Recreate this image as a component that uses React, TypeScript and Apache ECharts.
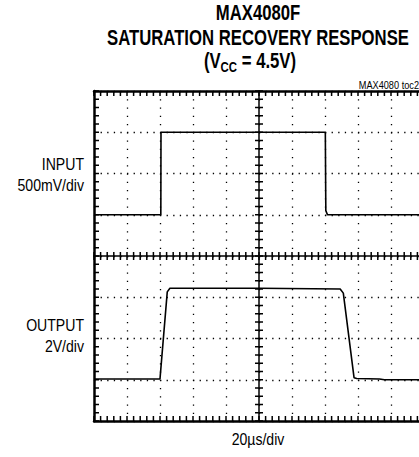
import React, { useEffect, useRef } from "react";
import * as echarts from "echarts";

// time axis in µs (20 µs/div), vertical axis in screen divisions
const xMin = 0;
const xMax = 200;
const xStep = 20;
const yMin = 0;
const yMax = 8;
const yStep = 1;
const minorPerDiv = 5;

const inputTime = [0, 40.5, 40.6, 140.2, 140.5, 141.5, 200];
const inputLevel = [5, 5, 7, 7, 5.1, 5, 5];

const outputTime = [0, 40, 44.4, 46, 100, 149.2, 151.1, 157.6, 159.2, 173, 176, 200];
const outputLevel = [1.02, 1.02, 3.13, 3.22, 3.22, 3.2, 3.1, 1.05, 1.03, 1.02, 1.0, 1.0];

const titleLines = ["MAX4080F", "SATURATION RECOVERY RESPONSE"];
const inputLabel = ["INPUT", "500mV/div"];
const outputLabel = ["OUTPUT", "2V/div"];
const timeLabel = "20\u00b5s/div";
const tocLabel = "MAX4080 toc2";

const GRID_L = 94;
const GRID_T = 91;
const GRID_W = 330;
const GRID_H = 330;
const FONT = '"Liberation Sans", Arial, sans-serif';

// minor graticule tick positions (axis units)
const xTickPos: number[] = [];
for (let i = 0; i <= ((xMax - xMin) / xStep) * minorPerDiv; i++) xTickPos.push(xMin + (i * xStep) / minorPerDiv);
const yTickPos: number[] = [];
for (let i = 0; i <= ((yMax - yMin) / yStep) * minorPerDiv; i++) yTickPos.push(yMin + (i * yStep) / minorPerDiv);

function xAx(opts: any) {
  return {
    type: "value",
    min: xMin,
    max: xMax,
    interval: xStep,
    gridIndex: 0,
    axisLabel: { show: false },
    axisTick: { show: false },
    splitLine: { show: false },
    ...opts,
  };
}
function yAx(opts: any) {
  return {
    type: "value",
    min: yMin,
    max: yMax,
    interval: yStep,
    gridIndex: 0,
    axisLabel: { show: false },
    axisTick: { show: false },
    splitLine: { show: false },
    ...opts,
  };
}

export default function App() {
  const ref = useRef<HTMLDivElement>(null);
  useEffect(() => {
    if (!ref.current) return;
    const chart = echarts.init(ref.current, null, { renderer: "svg" });
    const lineStyle = (w: number) => ({ show: true, onZero: false, lineStyle: { color: "#000", width: w } });
    const half = GRID_H / 2;
    const halfW = GRID_W / 2;
    const yMid = (yMin + yMax) / 2;
    const xMid = (xMin + xMax) / 2;
    const tickStyle = { stroke: "#000", lineWidth: 1.5, fill: "none" };
    const seg = (x1: number, y1: number, x2: number, y2: number) => ({
      type: "line",
      shape: { x1, y1, x2, y2 },
      style: tickStyle,
    });
    const text = (s: string, x: number, y: number, size: number, bold: boolean, align: string, sx: number) => ({
      type: "text",
      x,
      y,
      scaleX: sx,
      style: {
        text: s,
        fontFamily: FONT,
        fontWeight: bold ? "bold" : "normal",
        fontSize: size,
        fill: "#000",
        align,
        verticalAlign: "middle",
      },
    });
    const option: any = {
      animation: false,
      grid: {
        left: GRID_L,
        top: GRID_T,
        width: GRID_W,
        height: GRID_H,
        containLabel: false,
        outerBoundsMode: "none",
      },
      xAxis: [
        xAx({
          position: "bottom",
          axisLine: lineStyle(2.5),
          splitLine: {
            show: true,
            lineStyle: { color: "#000", width: 1.3, type: [1.3, 6.95] },
          },
        }),
        xAx({ position: "top", axisLine: lineStyle(2.5) }),
        xAx({ position: "bottom", offset: -half, axisLine: lineStyle(1.5) }),
      ],
      yAxis: [
        yAx({
          position: "left",
          axisLine: lineStyle(2.5),
          splitLine: {
            show: true,
            lineStyle: { color: "#000", width: 1.3, type: [1.3, 5.3] },
          },
        }),
        yAx({ position: "right", axisLine: lineStyle(2.5) }),
        yAx({ position: "left", offset: -halfW, axisLine: lineStyle(1.5) }),
      ],
      series: [
        {
          name: "INPUT",
          type: "line",
          xAxisIndex: 0,
          yAxisIndex: 0,
          showSymbol: false,
          data: inputTime.map((t, i) => [t, inputLevel[i]]),
          lineStyle: { color: "#000", width: 1.6 },
          z: 5,
        },
        {
          name: "OUTPUT",
          type: "line",
          xAxisIndex: 0,
          yAxisIndex: 0,
          showSymbol: false,
          data: outputTime.map((t, i) => [t, outputLevel[i]]),
          lineStyle: { color: "#000", width: 1.6 },
          z: 5,
        },
        {
          name: "xTicks",
          type: "custom",
          xAxisIndex: 0,
          yAxisIndex: 0,
          data: xTickPos.map((t) => [t, yMid]),
          encode: { x: 0, y: 1 },
          renderItem: (_p: any, api: any) => {
            const t = api.value(0);
            const b = api.coord([t, yMin]);
            const tp = api.coord([t, yMax]);
            const c = api.coord([t, yMid]);
            return {
              type: "group",
              children: [
                seg(b[0], b[1], b[0], b[1] - 5),
                seg(tp[0], tp[1], tp[0], tp[1] + 5),
                seg(c[0], c[1] - 4, c[0], c[1] + 4),
              ],
            };
          },
          z: 6,
        },
        {
          name: "yTicks",
          type: "custom",
          xAxisIndex: 0,
          yAxisIndex: 0,
          data: yTickPos.map((v) => [xMid, v]),
          encode: { x: 0, y: 1 },
          renderItem: (_p: any, api: any) => {
            const v = api.value(1);
            const l = api.coord([xMin, v]);
            const c = api.coord([xMid, v]);
            return {
              type: "group",
              children: [seg(l[0], l[1], l[0] + 5, l[1]), seg(c[0] - 4, c[1], c[0] + 4, c[1])],
            };
          },
          z: 6,
        },
      ],
      graphic: [
        ...titleLines.map((s, i) => text(s, 258, 12.5 + i * 25, 22, true, "center", 0.76)),
        {
          type: "text",
          x: 250,
          y: 62,
          scaleX: 0.76,
          style: {
            text: "{m|(V}{s|CC}{m| = 4.5V)}",
            align: "center",
            verticalAlign: "middle",
            rich: {
              m: { fontFamily: FONT, fontWeight: "bold", fontSize: 22, fill: "#000", padding: [0, 0, 3, 0], verticalAlign: "bottom" },
              s: { fontFamily: FONT, fontWeight: "bold", fontSize: 15, fill: "#000", verticalAlign: "bottom" },
            },
          },
        },
        text(tocLabel, 419, 85, 10, false, "right", 0.92),
        ...inputLabel.map((s, i) => text(s, 84, 164 + i * 21, 16, false, "right", 0.88)),
        ...outputLabel.map((s, i) => text(s, 84, 325 + i * 21, 16, false, "right", 0.88)),
        text(timeLabel, 258, 439, 16, false, "center", 0.88),
      ],
    };
    chart.setOption(option);
    return () => chart.dispose();
  }, []);
  return (
    <div
      ref={ref}
      style={{ position: "fixed", left: 0, top: 0, width: 419, height: 457, background: "#fff" }}
    />
  );
}
